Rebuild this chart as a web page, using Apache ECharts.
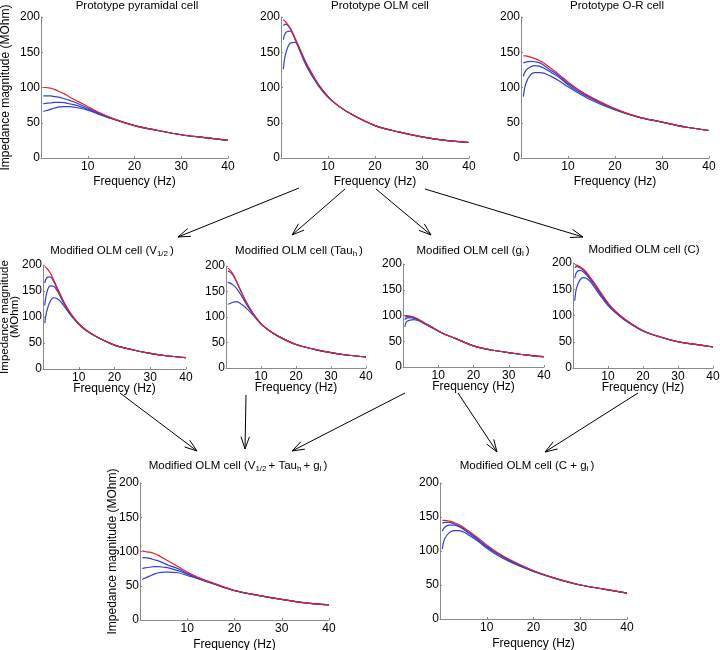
<!DOCTYPE html>
<html>
<head>
  <meta charset="utf-8">
  <title>OLM impedance panels</title>
  <script src="https://cdn.jsdelivr.net/npm/echarts/dist/echarts.min.js"></script>
  <style>
    html, body { margin: 0; padding: 0; background: #fff; }
    #chart-container { width: 720px; height: 650px; }
  </style>
</head>
<body>
<div id="chart-container"></div>

<script>
  // frequencies (Hz) at which curves were read
  var freq = [0.5, 1, 2, 3, 4, 5, 6, 8, 10, 12, 15, 20, 25, 30, 35, 40];

  // Prototype pyramidal cell
  var pyrRed   = [100, 100, 99, 97, 94, 91, 87, 80, 73, 66, 57, 46, 39, 33, 29, 25];
  var pyrBlue1 = [88, 88, 88, 87, 86, 84, 82, 77, 71, 65, 57, 46, 39, 33, 29, 25];
  var pyrBlue2 = [77, 77.5, 78, 79, 79, 78.5, 77, 74, 69, 64, 56, 46, 39, 33, 29, 25];
  var pyrBlue3 = [66, 67, 69, 71, 72.5, 73, 73, 71, 68, 63, 56, 46, 39, 33, 29, 25];

  // Prototype OLM cell
  var olmRed   = [196, 193, 184, 170, 155, 140, 127, 104, 87, 75, 62, 46, 37, 30, 25, 22];
  var olmBlue1 = [188, 190, 183, 169, 154, 139, 126, 104, 87, 75, 62, 46, 37, 30, 25, 22];
  var olmBlue2 = [168, 178, 180, 168, 153, 138, 125, 103, 87, 75, 62, 46, 37, 30, 25, 22];
  var olmBlue3 = [126, 148, 163, 164, 152, 136, 123, 102, 86, 75, 62, 46, 37, 30, 25, 22];

  // Prototype O-R cell
  var orRed   = [145, 145, 143, 141, 138, 134, 129, 119, 108, 98, 86, 70, 58, 51, 44, 39];
  var orBlue1 = [135, 136, 137, 136.5, 135, 131, 126, 117, 106, 97, 85, 69, 58, 51, 44, 39];
  var orBlue2 = [116, 124, 129, 131, 130, 127, 123, 115, 104, 95, 84, 69, 58, 51, 44, 39];
  var orBlue3 = [87, 105, 118, 121, 121, 120, 117, 110, 101, 93, 82, 68, 58, 51, 44, 39];

  // Modified OLM cell (V1/2)
  var vRed   = [197, 194, 185, 171, 156, 141, 127, 104, 87, 75, 62, 46, 37, 30, 25, 22];
  var vBlue1 = [165, 175, 177, 168, 154, 140, 126, 104, 87, 75, 62, 46, 37, 30, 25, 22];
  var vBlue2 = [122, 145, 160, 159, 150, 137, 124, 103, 87, 75, 62, 46, 37, 30, 25, 22];
  var vBlue3 = [88, 110, 130, 137, 135, 129, 120, 101, 86, 74, 62, 46, 37, 30, 25, 22];

  // Modified OLM cell (Tau_h)
  var tauRed   = [196, 193, 184, 170, 155, 140, 127, 104, 87, 75, 62, 46, 37, 30, 25, 22];
  var tauBlue1 = [190, 189, 182, 169, 154, 139, 126, 104, 87, 75, 62, 46, 37, 30, 25, 22];
  var tauBlue2 = [168, 167, 163, 156, 146, 135, 123, 103, 87, 75, 62, 46, 37, 30, 25, 22];
  var tauBlue3 = [125, 126, 129, 130, 127, 122, 116, 102, 86, 75, 62, 46, 37, 30, 25, 22];

  // Modified OLM cell (g_l)
  var glRed   = [100, 100, 99, 97, 94, 90, 86, 78, 70, 63, 55, 41, 33, 28, 23, 20];
  var glBlue1 = [97, 98, 98, 96, 93, 90, 86, 78, 70, 63, 55, 41, 33, 28, 23, 20];
  var glBlue2 = [92, 95, 96, 95, 93, 89, 85, 78, 70, 63, 55, 41, 33, 28, 23, 20];
  var glBlue3 = [78, 88, 91, 92, 91, 88, 84, 77, 70, 63, 55, 41, 33, 28, 23, 20];

  // Modified OLM cell (C)
  var cRed   = [197, 196, 193, 188, 181, 172, 163, 143, 124, 109, 92, 71, 59, 50, 45, 40];
  var cBlue1 = [191, 193, 191, 186, 179, 170, 161, 141, 123, 108, 92, 71, 59, 50, 45, 40];
  var cBlue2 = [171, 182, 186, 183, 176, 168, 159, 139, 121, 107, 91, 71, 59, 50, 45, 40];
  var cBlue3 = [128, 152, 168, 172, 170, 164, 155, 136, 119, 106, 90, 70, 59, 50, 45, 40];

  // Modified OLM cell (V1/2 + Tau_h + g_l)
  var vtgRed   = [101, 100, 99, 97, 94, 90, 86, 78, 70, 63, 55, 43, 36, 30, 25, 22];
  var vtgBlue1 = [91, 91, 90, 88, 86, 83, 80, 75, 68, 62, 55, 43, 36, 30, 25, 22];
  var vtgBlue2 = [75, 76, 77, 78, 78, 77, 76, 72, 67, 61, 54, 43, 36, 30, 25, 22];
  var vtgBlue3 = [59, 61, 64, 67, 69, 70, 70, 69, 65, 61, 54, 43, 36, 30, 25, 22];

  // Modified OLM cell (C + g_l)
  var cgRed   = [145, 145, 144, 142, 139, 135, 130, 120, 109, 99, 87, 71, 59, 50, 44, 38];
  var cgBlue1 = [141, 142, 142, 140, 137, 133, 128, 118, 107, 98, 86, 71, 59, 50, 44, 38];
  var cgBlue2 = [129, 135, 138, 138, 136, 132, 127, 117, 106, 97, 85, 70, 59, 50, 44, 38];
  var cgBlue3 = [103, 118, 127, 130, 130, 128, 124, 115, 104, 95, 84, 70, 59, 50, 44, 38];

  var yTicks = [0, 50, 100, 150, 200];
  var xTicks = [10, 20, 30, 40];

  var RED = '#e4202a';
  var BLUE = '#3340d0';
  var AXIS = '#8a8a8a';
  var FONT = '"Liberation Sans", Arial, sans-serif';

  // layout of the nine panels (px)
  var panels = [
    { box: [41, 17, 187, 141],  xgap: 18, title: ['Prototype pyramidal cell'], tx: 137, ty: 6,  yname: 'Impedance magnitude (MOhm)', gap: 29, data: [pyrBlue1, pyrBlue2, pyrBlue3, pyrRed] },
    { box: [281, 17, 188, 141], xgap: 18, title: ['Prototype OLM cell'], tx: 380, ty: 6, data: [olmBlue1, olmBlue2, olmBlue3, olmRed] },
    { box: [521, 17, 188, 141], xgap: 18, title: ['Prototype O-R cell'], tx: 617, ty: 6, data: [orBlue1, orBlue2, orBlue3, orRed] },
    { box: [43, 265, 143, 104], xgap: 14, title: ['Modified OLM cell (V', '1/2', ')'], tx: 112, ty: 251, yname: 'Impedance magnitude\n(MOhm)', gap: 23, nameSize: 11.5, nameLh: 10, data: [vBlue1, vBlue2, vBlue3, vRed] },
    { box: [226, 266, 140, 102], xgap: 14, title: ['Modified OLM cell (Tau', 'h', ')'], tx: 299, ty: 251, data: [tauBlue1, tauBlue2, tauBlue3, tauRed] },
    { box: [403, 264, 141, 103], xgap: 14, title: ['Modified OLM cell (g', 'l', ')'], tx: 473, ty: 251, data: [glBlue1, glBlue2, glBlue3, glRed] },
    { box: [573, 263, 140, 105], xgap: 14, title: ['Modified OLM cell (C)'], tx: 644, ty: 250, data: [cBlue1, cBlue2, cBlue3, cRed] },
    { box: [140, 483, 189, 137], xgap: 19, title: ['Modified OLM cell (V', '1/2', '+ Tau', 'h', '+ g', 'l', ')'], tx: 238, ty: 466, yname: 'Impedance magnitude (MOhm)', gap: 21, data: [vtgBlue1, vtgBlue2, vtgBlue3, vtgRed] },
    { box: [440, 483, 187, 136], xgap: 19, title: ['Modified OLM cell (C + g', 'l', ')'], tx: 527, ty: 466, data: [cgBlue1, cgBlue2, cgBlue3, cgRed] }
  ];

  // arrows between panels: [x1, y1, x2, y2]
  var arrows = [
    [299, 188, 178, 237], [345, 189, 292, 235], [376, 189, 431, 235], [425, 189, 583, 237],
    [120, 393, 197, 451], [246, 395, 245, 449], [405, 393, 292, 451], [458, 393, 497, 452], [638, 393, 545, 452]
  ];

  var container = document.getElementById('chart-container');
  var myChart = echarts.init(container, null, { renderer: 'canvas' });

  var grids = [], xAxes = [], yAxes = [], series = [], graphics = [];

  panels.forEach(function (p, i) {
    grids.push({ left: p.box[0], top: p.box[1], width: p.box[2], height: p.box[3], containLabel: false, outerBoundsMode: 'none' });
    xAxes.push({
      gridIndex: i, type: 'value', min: 0, max: 40, interval: 10,
      name: 'Frequency (Hz)', nameLocation: 'middle', nameGap: p.xgap, nameMoveOverlap: false,
      nameTextStyle: { color: '#000', fontSize: 12, fontFamily: FONT },
      axisLine: { show: true, lineStyle: { color: AXIS, width: 1 } },
      axisTick: { show: true, inside: true, length: 2, lineStyle: { color: AXIS } },
      axisLabel: { margin: 3, color: '#000', fontSize: 12, fontFamily: FONT,
        formatter: function (v) { return xTicks.indexOf(v) >= 0 ? String(v) : ''; } },
      splitLine: { show: false }
    });
    yAxes.push({
      gridIndex: i, type: 'value', min: 0, max: 200, interval: 50,
      name: p.yname || '', nameLocation: 'middle', nameGap: p.gap || 0, nameRotate: 90, nameMoveOverlap: false,
      nameTextStyle: { color: '#000', fontSize: p.nameSize || 12, fontFamily: FONT, lineHeight: p.nameLh || 12 },
      axisLine: { show: true, lineStyle: { color: AXIS, width: 1 } },
      axisTick: { show: true, inside: true, length: 2, lineStyle: { color: AXIS } },
      axisLabel: { margin: 1, color: '#000', fontSize: 12, fontFamily: FONT,
        formatter: function (v) { return yTicks.indexOf(v) >= 0 ? String(v) : ''; } },
      splitLine: { show: false }
    });
    p.data.forEach(function (arr, k) {
      series.push({
        type: 'line', xAxisIndex: i, yAxisIndex: i,
        data: freq.map(function (f, j) { return [f, arr[j]]; }),
        smooth: 0.35, showSymbol: false, silent: true,
        lineStyle: { color: k === 3 ? RED : BLUE, width: 1.2 },
        z: k === 3 ? 3 : 2
      });
    });

    // panel title, with subscripts as rich text
    var txt = p.title.map(function (s, j) {
      return (j % 2 === 1 ? '{s|' : '{m|') + s + '}';
    }).join('');
    graphics.push({
      type: 'text', x: p.tx, y: p.ty,
      style: {
        text: txt, align: 'center', verticalAlign: 'middle', fill: '#000',
        rich: {
          m: { fontSize: 11.5, fontFamily: FONT, lineHeight: 14, fill: '#000' },
          s: { fontSize: 8, fontFamily: FONT, lineHeight: 8, verticalAlign: 'bottom', fill: '#000', padding: [0, 2, 0, 0] }
        }
      }
    });
  });

  // open arrowheads
  arrows.forEach(function (a) {
    var ang = Math.atan2(a[3] - a[1], a[2] - a[0]);
    var L = 13, w = 0.33;
    var h1 = [a[2] - L * Math.cos(ang - w), a[3] - L * Math.sin(ang - w)];
    var h2 = [a[2] - L * Math.cos(ang + w), a[3] - L * Math.sin(ang + w)];
    graphics.push({ type: 'line', shape: { x1: a[0], y1: a[1], x2: a[2], y2: a[3] }, style: { stroke: '#000', lineWidth: 1 } });
    graphics.push({ type: 'polyline', shape: { points: [h1, [a[2], a[3]], h2] }, style: { stroke: '#000', lineWidth: 1, fill: null } });
  });

  myChart.setOption({
    animation: false,
    backgroundColor: '#fff',
    grid: grids,
    xAxis: xAxes,
    yAxis: yAxes,
    series: series,
    graphic: graphics
  });
</script>
</body>
</html>
